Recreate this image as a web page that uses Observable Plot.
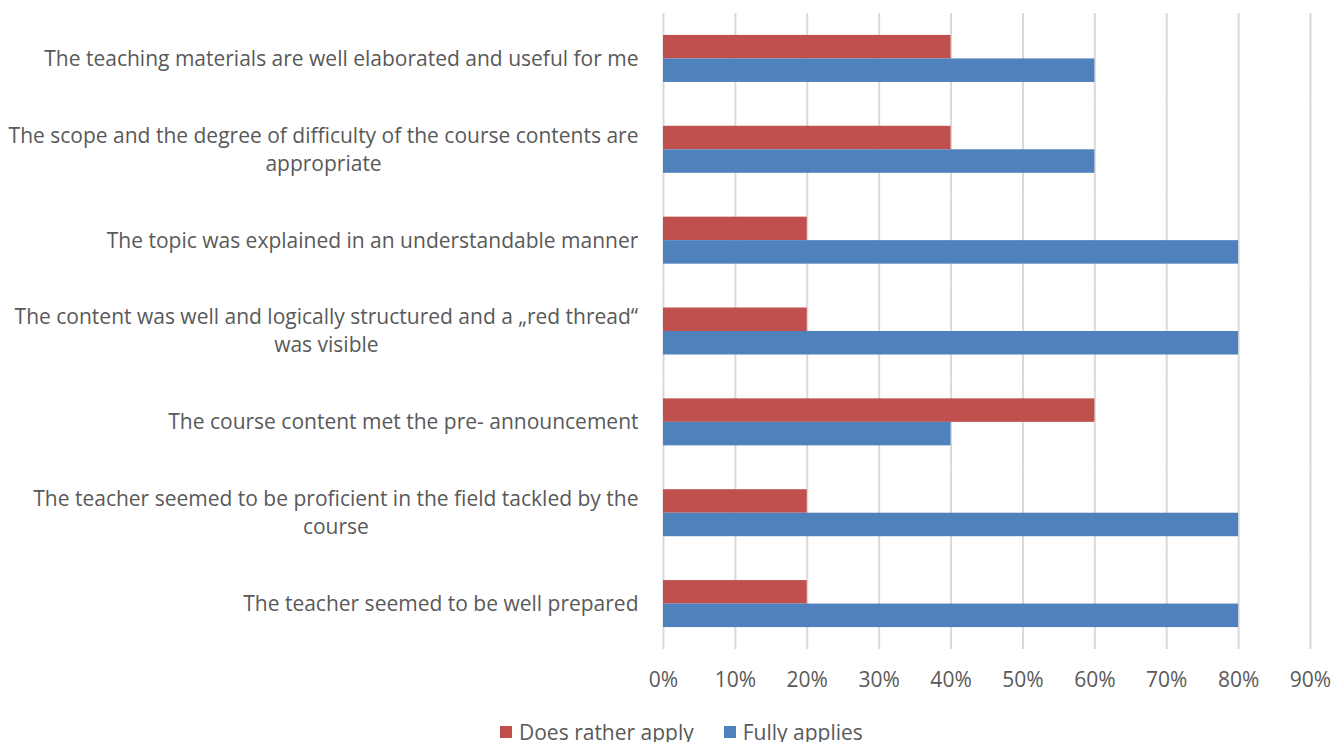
<!DOCTYPE html>
<html><head><meta charset="utf-8">
<script src="https://cdn.jsdelivr.net/npm/d3@7"></script>
<script src="https://cdn.jsdelivr.net/npm/@observablehq/plot@0.6"></script>
<style>
body{margin:0;background:#fff;font-family:"Open Sans",sans-serif;width:1334px;height:742px;overflow:hidden;position:relative;}
#legend{position:absolute;left:500px;top:718px;display:flex;align-items:center;font-size:21px;color:#595959;white-space:nowrap;}
#legend .item{display:flex;align-items:center;margin-right:30px;}
#legend .sw{width:12px;height:12px;margin-right:7px;}
</style></head><body><div id="chart"></div><div id="legend"></div>
<script>
const categories = [
  "The teaching materials are well elaborated and useful for me",
  "The scope and the degree of difficulty of the course contents are\nappropriate",
  "The topic was explained in an understandable manner",
  "The content was well and logically structured and a \u201Ered thread\u201C\nwas visible",
  "The course content met the pre- announcement",
  "The teacher seemed to be proficient in the field tackled by the\ncourse",
  "The teacher seemed to be well prepared"
];
const series = ["Does rather apply", "Fully applies"];
const doesRatherApply = [0.40, 0.40, 0.20, 0.20, 0.60, 0.20, 0.20];
const fullyApplies = [0.60, 0.60, 0.80, 0.80, 0.40, 0.80, 0.80];
const xTicks = [0, 0.1, 0.2, 0.3, 0.4, 0.5, 0.6, 0.7, 0.8, 0.9];
const colors = ["#C0504D", "#4F81BD"];

const data = categories.flatMap((c, i) => [
  {category: c, series: series[0], value: doesRatherApply[i]},
  {category: c, series: series[1], value: fullyApplies[i]}
]);

const chart = Plot.plot({
  width: 1334, height: 706,
  marginLeft: 663, marginRight: 24, marginTop: 13, marginBottom: 57,
  style: {fontFamily: '"Open Sans", sans-serif', fontSize: "21px", color: "#595959", background: "#fff"},
  x: {domain: [0, 0.9]},
  y: {domain: series, paddingInner: 0, paddingOuter: 0.933, round: false, axis: null},
  fy: {domain: categories, padding: 0, round: false},
  color: {domain: series, range: colors},
  marks: [
    Plot.ruleX(xTicks, {x: d => d, stroke: "#D9D9D9", strokeWidth: 2}),
    Plot.barX(data, {x: "value", y: "series", fy: "category", fill: "series"}),
    Plot.axisX({ticks: xTicks, tickFormat: d => Math.round(d * 100) + "%", tickSize: 0, tickPadding: 23, fontSize: 21, fill: "#595959", label: null}),
    Plot.axisFy({anchor: "left", tickSize: 0, tickPadding: 25, lineHeight: 1.33, fontSize: 21, dy: -2, fill: "#595959", label: null})
  ]
});
document.getElementById("chart").appendChild(chart);

// center lines of multi-line category labels within a right-aligned block
chart.querySelectorAll('g[aria-label="fy-axis tick label"] text').forEach(t => {
  const w = t.getBBox().width;
  t.setAttribute("text-anchor", "middle");
  const tr = t.getAttribute("transform") || "";
  t.setAttribute("transform", tr + ` translate(${-w / 2},0)`);
});

const legend = document.getElementById("legend");
series.forEach((s, i) => {
  const item = document.createElement("div");
  item.className = "item";
  const sw = document.createElement("div");
  sw.className = "sw";
  sw.style.background = colors[i];
  const lab = document.createElement("span");
  lab.textContent = s;
  item.appendChild(sw); item.appendChild(lab);
  legend.appendChild(item);
});
</script></body></html>
